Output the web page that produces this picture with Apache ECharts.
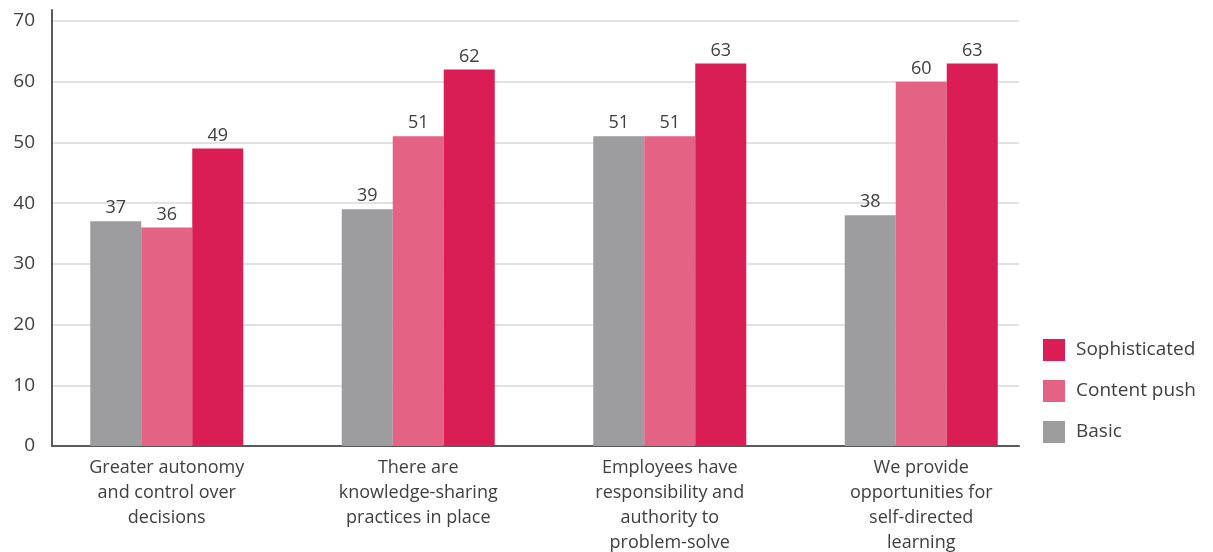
<!DOCTYPE html>
<html>
<head>
<meta charset="utf-8">
<script src="https://cdn.jsdelivr.net/npm/echarts@6/dist/echarts.min.js"></script>
<style>
  html, body { margin: 0; padding: 0; background: #ffffff; }
  #chart { width: 1213px; height: 552px; }
</style>
</head>
<body>
<div id="chart"></div>
<script>
// Survey results by learning approach
const categories = [
  'Greater autonomy\nand control over\ndecisions',
  'There are\nknowledge-sharing\npractices in place',
  'Employees have\nresponsibility and\nauthority to\nproblem-solve',
  'We provide\nopportunities for\nself-directed\nlearning'
];
const basic = [37, 39, 51, 38];
const contentPush = [36, 51, 51, 60];
const sophisticated = [49, 62, 63, 63];
const yTicks = [0, 10, 20, 30, 40, 50, 60, 70];

const FONT = '"Open Sans", "Noto Sans", sans-serif';
const TEXT = '#404040';
const AXIS = '#5a5a5a';

const chart = echarts.init(document.getElementById('chart'), null, { renderer: 'canvas' });

const barLabel = {
  show: true,
  position: 'top',
  distance: 4,
  color: TEXT,
  fontFamily: FONT,
  fontSize: 18
};

chart.setOption({
  animation: false,
  backgroundColor: '#ffffff',
  textStyle: { fontFamily: FONT },
  grid: [
    // frame: value axis, gridlines and baseline
    { left: 52, right: 194, top: 21, bottom: 106, containLabel: false, outerBoundsMode: 'none' },
    // bars and category labels
    { left: 41, right: 166, top: 21, bottom: 106, containLabel: false, outerBoundsMode: 'none' },
    // vertical axis line reaching above the top gridline
    { left: 52, right: 194, top: 10, bottom: 106, containLabel: false, outerBoundsMode: 'none' }
  ],
  legend: {
    orient: 'vertical',
    left: 1043,
    top: 339,
    padding: 0,
    itemWidth: 22,
    itemHeight: 22,
    itemGap: 19,
    icon: 'rect',
    data: ['Sophisticated', 'Content push', 'Basic'],
    textStyle: { color: TEXT, fontFamily: FONT, fontSize: 19, padding: [0, 0, 0, 6] }
  },
  xAxis: [
    {
      gridIndex: 0,
      type: 'value',
      min: 0, max: 1,
      axisLine: { show: true, onZero: false, lineStyle: { color: AXIS, width: 2 } },
      axisTick: { show: false },
      axisLabel: { show: false },
      splitLine: { show: false }
    },
    {
      gridIndex: 1,
      type: 'category',
      data: categories,
      axisLine: { show: false },
      axisTick: { show: false },
      axisLabel: {
        color: TEXT,
        fontFamily: FONT,
        fontSize: 18,
        lineHeight: 25,
        margin: 9,
        interval: 0,
        align: 'center'
      }
    },
    {
      gridIndex: 2,
      type: 'value',
      min: 0, max: 1,
      show: false
    }
  ],
  yAxis: [
    {
      gridIndex: 0,
      type: 'value',
      min: yTicks[0],
      max: yTicks[yTicks.length - 1],
      interval: 10,
      axisLine: { show: false },
      axisTick: { show: false },
      axisLabel: {
        color: TEXT,
        fontFamily: FONT,
        fontSize: 19,
        margin: 17
      },
      splitLine: { show: true, lineStyle: { color: '#d9d9d9', width: 1.5 } }
    },
    {
      gridIndex: 1,
      type: 'value',
      min: yTicks[0],
      max: yTicks[yTicks.length - 1],
      interval: 10,
      show: false,
      splitLine: { show: false }
    },
    {
      gridIndex: 2,
      type: 'value',
      min: 0, max: 1,
      axisLine: { show: true, lineStyle: { color: AXIS, width: 2 } },
      axisTick: { show: false },
      axisLabel: { show: false },
      splitLine: { show: false }
    }
  ],
  series: [
    {
      name: 'Basic',
      type: 'bar',
      xAxisIndex: 1, yAxisIndex: 1,
      data: basic,
      barWidth: 51,
      barGap: '0%',
      itemStyle: { color: '#9d9c9e' },
      label: barLabel,
      z: 1
    },
    {
      name: 'Content push',
      type: 'bar',
      xAxisIndex: 1, yAxisIndex: 1,
      data: contentPush,
      barWidth: 51,
      barGap: '0%',
      itemStyle: { color: '#e46284' },
      label: barLabel,
      z: 1
    },
    {
      name: 'Sophisticated',
      type: 'bar',
      xAxisIndex: 1, yAxisIndex: 1,
      data: sophisticated,
      barWidth: 51,
      barGap: '0%',
      itemStyle: { color: '#da1e55' },
      label: barLabel,
      z: 1
    }
  ]
});
</script>
</body>
</html>
